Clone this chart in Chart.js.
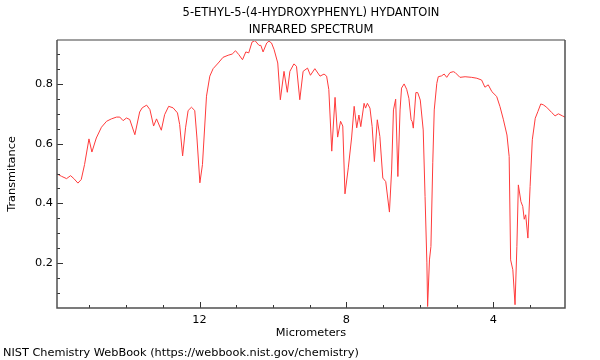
<!DOCTYPE html>
<html>
<head>
<meta charset="utf-8">
<script src="https://cdn.jsdelivr.net/npm/chart.js@4"></script>
<style>
html,body{margin:0;padding:0;background:#fff;}
#wrap{width:600px;height:360px;position:relative;}
</style>
</head>
<body>
<div id="wrap"><canvas id="c" width="600" height="360"></canvas></div>
<script>
const titleLines = ["5-ETHYL-5-(4-HYDROXYPHENYL) HYDANTOIN", "INFRARED SPECTRUM"];
const footerText = "NIST Chemistry WebBook (https://webbook.nist.gov/chemistry)";
const xAxisTitle = "Micrometers";
const yAxisTitle = "Transmitance";

const wavelength = [
15.88,15.76,15.62,15.51,15.42,15.31,15.22,15.13,15.01,14.93,14.81,14.67,14.53,14.40,14.26,14.17,14.08,13.99,13.90,13.76,
13.63,13.56,13.44,13.35,13.25,13.17,13.04,12.95,12.84,12.72,12.60,12.54,12.46,12.38,12.31,12.22,12.13,12.07,11.99,11.92,
11.81,11.72,11.63,11.49,11.36,11.22,11.11,11.02,10.93,10.83,10.74,10.66,10.57,10.49,10.38,10.33,10.27,10.17,10.11,10.04,
9.97,9.87,9.80,9.70,9.61,9.54,9.43,9.36,9.27,9.18,9.06,8.98,8.86,8.72,8.61,8.54,8.48,8.40,8.31,8.24,
8.16,8.10,8.04,7.95,7.86,7.79,7.72,7.66,7.61,7.52,7.48,7.43,7.36,7.30,7.24,7.16,7.09,7.01,6.93,6.83,
6.77,6.72,6.66,6.60,6.54,6.50,6.43,6.36,6.30,6.24,6.21,6.18,6.11,6.06,5.99,5.91,5.86,5.81,5.79,5.74,
5.70,5.65,5.61,5.54,5.50,5.41,5.34,5.27,5.18,5.09,5.04,4.91,4.77,4.59,4.45,4.32,4.23,4.14,4.04,3.91,
3.82,3.73,3.63,3.57,3.53,3.47,3.41,3.36,3.32,3.25,3.20,3.16,3.12,3.06,3.00,2.94,2.86,2.79,2.71,2.64,
2.55,2.41,2.32,2.23,2.12,2.05
];
const transmittance = [
0.499,0.491,0.483,0.493,0.483,0.468,0.480,0.530,0.616,0.572,0.619,0.655,0.675,0.683,0.689,0.689,0.677,0.686,0.681,0.630,
0.706,0.720,0.729,0.714,0.659,0.683,0.645,0.697,0.725,0.720,0.703,0.664,0.559,0.653,0.711,0.722,0.711,0.619,0.469,0.530,
0.759,0.826,0.851,0.870,0.889,0.896,0.900,0.911,0.898,0.881,0.907,0.904,0.940,0.945,0.929,0.929,0.907,0.937,0.943,0.937,
0.915,0.870,0.747,0.842,0.772,0.842,0.867,0.859,0.747,0.842,0.853,0.829,0.851,0.826,0.833,0.826,0.781,0.575,0.755,0.622,
0.675,0.659,0.432,0.519,0.619,0.725,0.653,0.696,0.657,0.735,0.719,0.735,0.719,0.657,0.540,0.680,0.624,0.485,0.473,0.371,
0.512,0.713,0.749,0.490,0.713,0.786,0.800,0.782,0.752,0.680,0.674,0.652,0.771,0.771,0.746,0.646,0.423,0.201,0.055,0.211,
0.256,0.536,0.713,0.802,0.824,0.827,0.833,0.822,0.838,0.841,0.838,0.822,0.824,0.822,0.819,0.813,0.789,0.797,0.774,0.758,
0.724,0.682,0.629,0.557,0.211,0.178,0.061,0.256,0.462,0.406,0.390,0.347,0.362,0.284,0.457,0.613,0.685,0.707,0.733,0.730,
0.722,0.704,0.693,0.700,0.693,0.689
];

const xRange = [2.05, 15.88];
const yRange = [0.05, 0.947];
const xTickValues = [3,4,5,6,7,8,9,10,11,12,13,14,15];
const xTickLabels = [12, 8, 4];
const yTickValues = [0.1,0.15,0.2,0.25,0.3,0.35,0.4,0.45,0.5,0.55,0.6,0.65,0.7,0.75,0.8,0.85,0.9];
const yTickLabels = [0.2, 0.4, 0.6, 0.8];

const FONT = "'DejaVu Sans', sans-serif";
const points = wavelength.map((w, i) => ({x: w, y: transmittance[i]}));

const isLabelled = (v, arr) => arr.some(a => Math.abs(a - v) < 1e-6);

const framePlugin = {
  id: 'frame',
  afterDraw(chart) {
    const ctx = chart.ctx;
    const a = chart.chartArea;
    const xs = chart.scales.x, ys = chart.scales.y;
    ctx.save();
    ctx.strokeStyle = '#333';
    ctx.lineWidth = 1;
    xTickValues.forEach(v => {
      const px = Math.round(xs.getPixelForValue(v)) + 0.5;
      const len = isLabelled(v, xTickLabels) ? 6 : 3;
      ctx.beginPath(); ctx.moveTo(px, a.bottom); ctx.lineTo(px, a.bottom - len); ctx.stroke();
    });
    yTickValues.forEach(v => {
      const py = Math.round(ys.getPixelForValue(v)) + 0.5;
      const len = isLabelled(v, yTickLabels) ? 6 : 3;
      ctx.beginPath(); ctx.moveTo(a.left, py); ctx.lineTo(a.left + len, py); ctx.stroke();
    });
    ctx.strokeStyle = '#a0a0a0';
    ctx.lineWidth = 2;
    ctx.beginPath(); ctx.moveTo(a.left, a.top); ctx.lineTo(a.right, a.top); ctx.stroke();
    ctx.strokeStyle = '#505050';
    ctx.lineWidth = 1.5;
    ctx.beginPath();
    ctx.moveTo(a.left, a.top); ctx.lineTo(a.left, a.bottom); ctx.lineTo(a.right, a.bottom); ctx.lineTo(a.right, a.top);
    ctx.stroke();
    ctx.fillStyle = '#000';
    ctx.font = "11.5px " + FONT;
    ctx.textAlign = 'center';
    ctx.textBaseline = 'middle';
    const cx = (a.left + a.right) / 2;
    ctx.fillText(titleLines[0], cx, 13);
    ctx.fillText(titleLines[1], cx, 30);
    ctx.textAlign = 'left';
    ctx.font = "11.3px " + FONT;
    ctx.fillText(footerText, 3, 353);
    ctx.restore();
  }
};

new Chart(document.getElementById('c'), {
  type: 'line',
  data: {
    datasets: [{
      data: points,
      borderColor: '#ff3b3b',
      borderWidth: 1,
      pointRadius: 0,
      tension: 0,
      fill: false
    }]
  },
  options: {
    responsive: false,
    animation: false,
    events: [],
    layout: {padding: {top: 40, right: 35, bottom: 20, left: 0}},
    plugins: {legend: {display: false}, tooltip: {enabled: false}, title: {display: false}},
    scales: {
      x: {
        type: 'linear',
        reverse: true,
        min: xRange[0],
        max: xRange[1],
        afterFit(s) { s.height = 32; },
        afterBuildTicks(s) { s.ticks = xTickValues.map(v => ({value: v})); },
        grid: {display: false, drawTicks: false},
        border: {display: false},
        ticks: {
          autoSkip: false,
          maxRotation: 0,
          padding: 5,
          color: '#000',
          font: {family: FONT, size: 11.3},
          callback: v => isLabelled(v, xTickLabels) ? String(v) : ''
        },
        title: {display: true, text: xAxisTitle, color: '#000', font: {family: FONT, size: 11.3}, padding: {top: 0, bottom: 0}}
      },
      y: {
        type: 'linear',
        min: yRange[0],
        max: yRange[1],
        afterFit(s) { s.width = 57; },
        afterBuildTicks(s) { s.ticks = yTickValues.map(v => ({value: v})); },
        grid: {display: false, drawTicks: false},
        border: {display: false},
        ticks: {
          autoSkip: false,
          padding: 4,
          color: '#000',
          font: {family: FONT, size: 11.3},
          callback: v => isLabelled(v, yTickLabels) ? v.toFixed(1) : ''
        },
        title: {display: true, text: yAxisTitle, color: '#000', font: {family: FONT, size: 11.3}, padding: {top: 5, bottom: 0}}
      }
    }
  },
  plugins: [framePlugin]
});
</script>
</body>
</html>
